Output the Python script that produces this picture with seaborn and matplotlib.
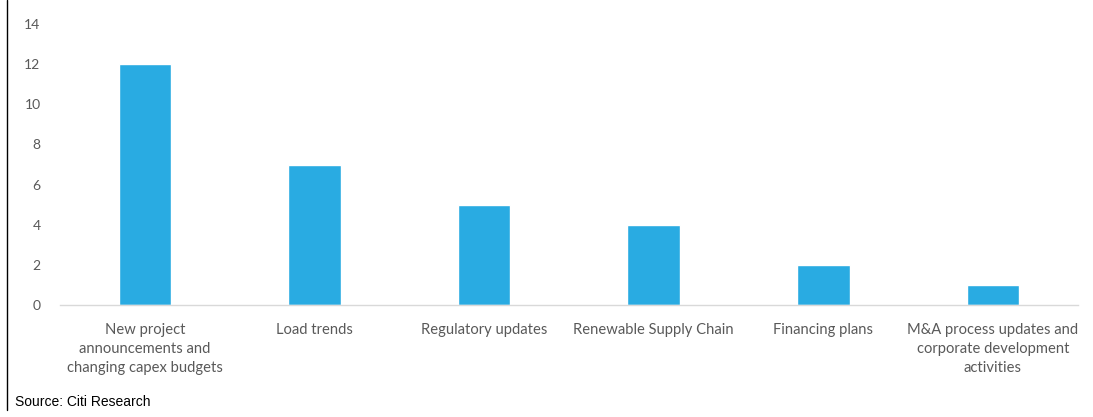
import matplotlib
matplotlib.use("Agg")
import matplotlib.pyplot as plt
from matplotlib.lines import Line2D
import seaborn as sns
import pandas as pd

categories = [
    "New project\nannouncements and\nchanging capex budgets",
    "Load trends",
    "Regulatory updates",
    "Renewable Supply Chain",
    "Financing plans",
    "M&A process updates and\ncorporate development\nactivities",
]
values = [12, 7, 5, 4, 2, 1]
yticks = [0, 2, 4, 6, 8, 10, 12, 14]
source_text = "Source: Citi Research"

sns.set_theme(style="white")
plt.rcParams['font.family'] = ['Lato', 'DejaVu Sans']

df = pd.DataFrame({"cat": categories, "val": values})

fig = plt.figure(figsize=(10.93, 4.17), dpi=100)
ax = fig.add_axes([0.0549, 0.2686, 0.9311, 0.6738])
sns.barplot(data=df, x="cat", y="val", color="#29ABE2", width=0.31, saturation=1, ax=ax)

ax.set_ylim(0, 14)
ax.set_yticks(yticks)
ax.set_xlim(-0.5, len(categories) - 0.5)
ax.set_xlabel("")
ax.set_ylabel("")
for s in ["top", "right", "left"]:
    ax.spines[s].set_visible(False)
ax.spines["bottom"].set_color("#d9d9d9")
ax.spines["bottom"].set_linewidth(1.0)
ax.tick_params(axis="y", length=0, labelsize=10, colors="#595959", pad=14)
ax.tick_params(axis="x", length=0, labelsize=10.6, colors="#595959", pad=13)
for lbl in ax.get_xticklabels():
    lbl.set_linespacing(1.45)

fig.add_artist(Line2D([7 / 1093, 7 / 1093], [1.0, 1 - 410 / 417], color="black", linewidth=1.0))
fig.text(15 / 1093, 1 - 402 / 417, source_text, fontsize=10, family=["Liberation Sans"],
         color="black", va="center", ha="left")

fig.savefig("out.png", dpi=100)
